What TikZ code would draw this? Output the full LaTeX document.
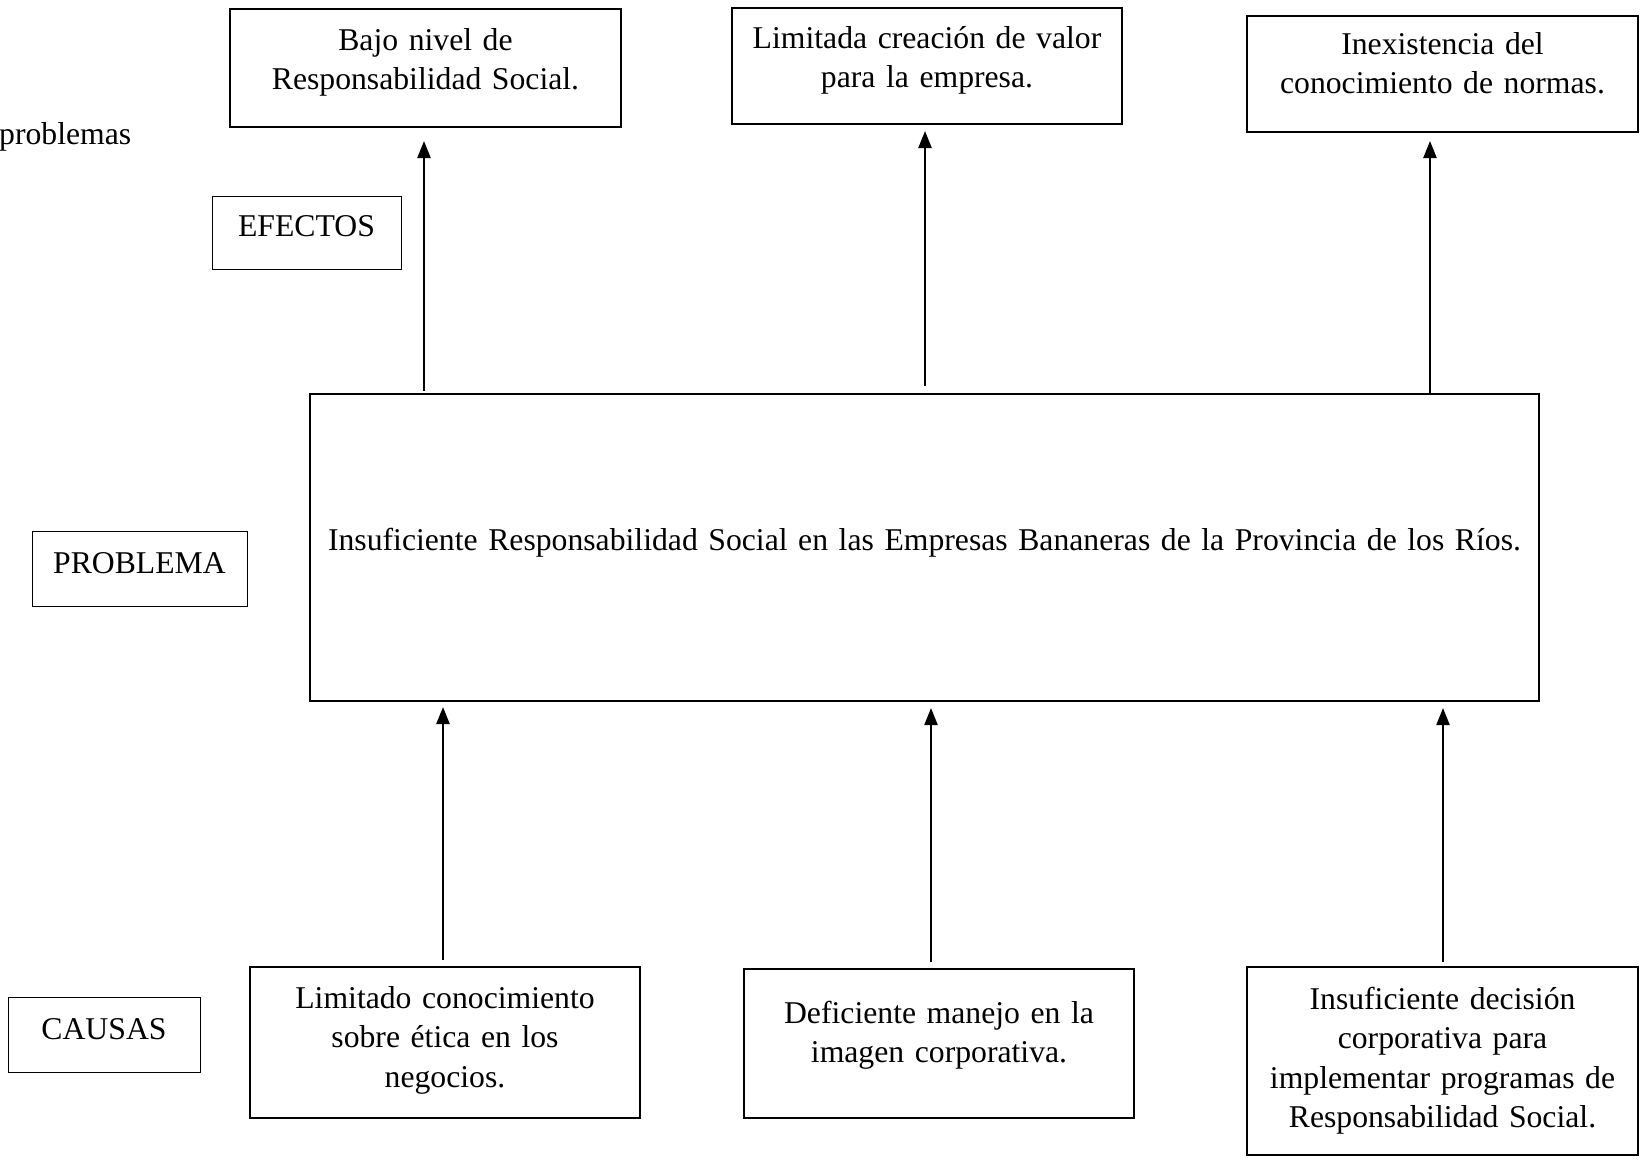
\documentclass[tikz,border=0pt]{standalone}
\usepackage{fontspec}
\setmainfont{Liberation Serif}
\usetikzlibrary{arrows.meta,calc}
\newcommand{\boxfont}{\fontsize{31.7}{39.5}\selectfont\fontdimen2\font=6.2pt\fontdimen3\font=0pt\fontdimen4\font=0pt}
\begin{document}
\begin{tikzpicture}[x=1pt,y=-1pt,
  every node/.style={font=\boxfont},
  box/.style={draw, line width=2pt, rectangle, inner sep=0pt, outer sep=0pt},
  lbl/.style={draw, line width=1pt, rectangle, inner sep=0pt, outer sep=0pt},
  txt/.style={inner sep=0pt, outer sep=0pt, anchor=base, align=center, text width=#1},
  txt/.default=385pt,
  arr/.style={line width=2.3pt, -{Triangle[width=13pt,length=17pt]}}
]
\path[use as bounding box] (0,0) rectangle (1640,1160);

% effect boxes
\node[box, minimum width=391pt, minimum height=118pt] (e1) at (425.5,68) {};
\node[box, minimum width=390pt, minimum height=116pt] (e2) at (927,66) {};
\node[box, minimum width=391pt, minimum height=116pt] (e3) at (1442.5,74) {};
\node[txt] (te1) at (425.5,50) {Bajo nivel de\\Responsabilidad Social.};
\node[txt] (te2) at (927,48) {Limitada creación de valor\\para la empresa.};
\node[txt] (te3) at (1442.5,54) {Inexistencia del\\conocimiento de normas.};

% main problem
\node[box, minimum width=1229pt, minimum height=307pt] (main) at (924.5,547.5) {};
\node[txt=1220pt] (tm) at (924.5,550) {Insuficiente Responsabilidad Social en las Empresas Bananeras de la Provincia de los Ríos.};

% cause boxes
\node[box, minimum width=390pt, minimum height=151pt] (c1) at (445,1042.5) {};
\node[box, minimum width=390pt, minimum height=149pt] (c2) at (939,1043.5) {};
\node[box, minimum width=391pt, minimum height=188pt] (c3) at (1442.5,1061) {};
\node[txt] (tc1) at (445,1008) {Limitado conocimiento\\sobre ética en los\\negocios.};
\node[txt] (tc2) at (939,1023) {Deficiente manejo en la\\imagen corporativa.};
\node[txt] (tc3) at (1442.5,1009) {Insuficiente decisión\\corporativa para\\implementar programas de\\Responsabilidad Social.};

% side labels
\node[lbl, minimum width=189pt, minimum height=73pt] (lef) at (306.5,232.5) {};
\node[anchor=base, inner sep=0pt] (tlef) at (306.5,236) {EFECTOS};
\node[lbl, minimum width=215pt, minimum height=75pt] (lpr) at (139.5,568.5) {};
\node[anchor=base, inner sep=0pt] (tlpr) at (139.5,573) {PROBLEMA};
\node[lbl, minimum width=192pt, minimum height=75pt] (lca) at (104,1034.5) {};
\node[anchor=base, inner sep=0pt] (tlca) at (104,1039) {CAUSAS};
\node[anchor=base west, inner sep=0pt] (prob) at (-1,144) {problemas};

% arrows effects
\draw[arr] ($(e1.south |- main.north)+(-1.5,-3)$) -- ($(e1.south)+(-1.5,14)$);
\draw[arr] ($(e2.south |- main.north)+(-2,-8)$) -- ($(e2.south)+(-2,7)$);
\draw[arr] ($(e3.south |- main.north)+(-12.5,0)$) -- ($(e3.south)+(-12.5,9)$);
% arrows causes
\draw[arr] ($(c1.north)+(-2,-7)$) -- ($(c1.north |- main.south)+(-2,6)$);
\draw[arr] ($(c2.north)+(-8,-7)$) -- ($(c2.north |- main.south)+(-8,7)$);
\draw[arr] ($(c3.north)+(0.5,-5)$) -- ($(c3.north |- main.south)+(0.5,7)$);
\end{tikzpicture}
\end{document}
